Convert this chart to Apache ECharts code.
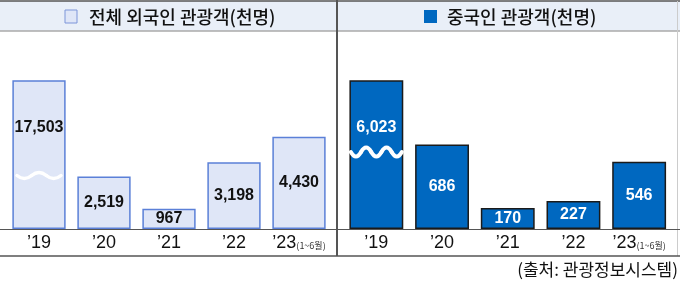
<!DOCTYPE html>
<html><head><meta charset="utf-8">
<script src="https://cdn.jsdelivr.net/npm/echarts@6/dist/echarts.min.js"></script>
<style>html,body{margin:0;padding:0;background:#fff}#c{width:680px;height:288px}</style>
</head><body><div id="c"></div>
<script>
const categories = ['’19', '’20', '’21', '’22', '’23'];
const totalVisitors = [17503, 2519, 967, 3198, 4430];
const chineseVisitors = [6023, 686, 170, 227, 546];
const leftTitle = '전체 외국인 관광객(천명)';
const rightTitle = '중국인 관광객(천명)';
const lastPeriod = '(1~6월)';
const sourceText = '(출처: 관광정보시스템)';

const KR = '"Noto Sans CJK KR","Noto Sans",sans-serif';
const chart = echarts.init(document.getElementById('c'), null, {renderer: 'canvas'});
const fmt = v => v.toLocaleString('en-US');

function items(arr, first) {
  return arr.map((v, i) => i === 0 ? {value: v, label: first} : v);
}
function xAx(gi) {
  return {
    gridIndex: gi, type: 'category', data: categories,
    axisLine: {show: false}, axisTick: {show: false},
    axisLabel: {
      interval: 0, margin: 5, color: '#111', fontSize: 18,
      fontFamily: '"Liberation Sans Narrow","Liberation Sans",Arial,sans-serif',
      formatter: (v, i) => i === categories.length - 1 ? v + '{s|' + lastPeriod + '}' : v,
      rich: {s: {fontSize: 9, color: '#333', fontFamily: KR, padding: [5, 0, 0, 0]}}
    }
  };
}
const option = {
  animation: false,
  grid: [
    {left: 6.5, width: 325, top: 81, height: 148},
    {left: 343.5, width: 328.5, top: 81, height: 148}
  ],
  xAxis: [xAx(0), xAx(1)],
  yAxis: [
    {gridIndex: 0, type: 'value', min: 0, max: 7100, show: false, splitLine: {show: false}},
    {gridIndex: 1, type: 'value', min: 0, max: 1200, show: false, splitLine: {show: false}}
  ],
  series: [
    {
      type: 'bar', xAxisIndex: 0, yAxisIndex: 0, clip: true, barCategoryGap: '18%',
      data: items(totalVisitors, {position: 'insideTop', distance: 39}),
      itemStyle: {color: '#dfe6f7', borderColor: '#5b80d8', borderWidth: 1.5},
      label: {show: true, position: 'inside', color: '#111', fontSize: 16, fontWeight: 'bold',
        fontFamily: '"Liberation Sans",Arial,sans-serif', formatter: p => fmt(p.value)}
    },
    {
      type: 'bar', xAxisIndex: 1, yAxisIndex: 1, clip: true, barCategoryGap: '18%',
      data: items(chineseVisitors, {position: 'insideTop', distance: 39}),
      itemStyle: {color: '#0068c0', borderColor: '#1a1a1a', borderWidth: 1.5},
      label: {show: true, position: 'inside', color: '#fff', fontSize: 16, fontWeight: 'bold',
        fontFamily: '"Liberation Sans",Arial,sans-serif', formatter: p => fmt(p.value)}
    }
  ]
};
chart.setOption(option);

function wave(cx, cy, half, amp, n, lw) {
  const w = half * 2 / n;
  const out = [];
  let x = cx - half;
  for (let i = 0; i < n; i++) {
    const s = i % 2 === 0 ? 1 : -1;
    out.push({type: 'bezierCurve', z: 20, silent: true,
      shape: {x1: x, y1: cy, x2: x + w, y2: cy, cpx1: x + w / 2, cpy1: cy + s * amp * 2},
      style: {fill: null, stroke: '#fff', lineWidth: lw, lineCap: 'round'}});
    x += w;
  }
  return out;
}
const p0 = chart.convertToPixel({xAxisIndex: 0, yAxisIndex: 0}, [0, 0]);
const p1 = chart.convertToPixel({xAxisIndex: 1, yAxisIndex: 1}, [0, 0]);

const line = (x1, y1, x2, y2, c, w) => ({type: 'line', silent: true, z: 10,
  shape: {x1, y1, x2, y2}, style: {stroke: c, lineWidth: w}});

chart.setOption({
  graphic: [
    {type: 'rect', silent: true, z: 1, shape: {x: 0, y: 1, width: 680, height: 30}, style: {fill: '#e9eff8'}},
    line(0, 1, 680, 1, '#555', 1.5),
    line(0, 31, 680, 31, '#aaa', 1.5),
    line(337, 0, 337, 256, '#555', 2),
    line(677.5, 1, 677.5, 256, '#ccc', 1),
    line(0, 229.5, 680, 229.5, '#555', 1.2),
    line(0, 256, 680, 256, '#555', 1.5),
    {type: 'rect', z: 11, shape: {x: 65, y: 10, width: 12, height: 13},
      style: {fill: '#dfe6f7', stroke: '#7d95d9', lineWidth: 1}},
    {type: 'text', z: 11, x: 89, y: 17, style: {text: leftTitle, fill: '#111', fontSize: 18,
      fontFamily: KR, fontWeight: 500, verticalAlign: 'middle', align: 'left'}},
    {type: 'rect', z: 11, shape: {x: 424, y: 10, width: 13, height: 13}, style: {fill: '#0068c0'}},
    {type: 'text', z: 11, x: 447, y: 17, style: {text: rightTitle, fill: '#111', fontSize: 18,
      fontFamily: KR, fontWeight: 500, verticalAlign: 'middle', align: 'left'}},
    {type: 'text', z: 11, x: 678, y: 270, style: {text: sourceText, fill: '#111', fontSize: 17,
      fontFamily: KR, verticalAlign: 'middle', align: 'right'}}
  ].concat(wave(p0[0], p0[1] - 53.5, 22, 3, 3, 3.5), wave(p1[0], p1[1] - 77, 25.5, 4.5, 5, 4))
});
</script></body></html>
